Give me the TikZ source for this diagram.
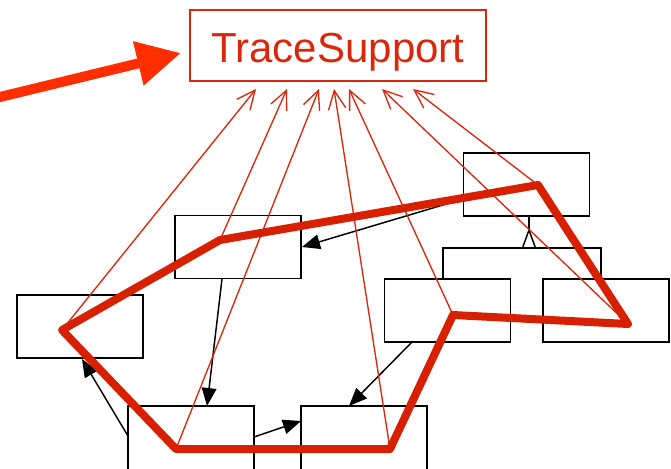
\documentclass[tikz,border=0pt]{standalone}
\usepackage{fontspec}
\setmainfont{Liberation Sans}
\usetikzlibrary{arrows.meta}
\definecolor{tracered}{RGB}{218,38,10}
\definecolor{pathred}{RGB}{214,32,0}
\definecolor{pointerred}{RGB}{255,45,0}

\begin{document}
\begin{tikzpicture}[x=0.75pt,y=-0.75pt,
  cls/.style={draw=black, line width=1.4pt, fill=white, minimum width=94.5pt,
              minimum height=47.25pt, inner sep=0pt, outer sep=0pt},
  dep/.style={draw=black, line width=1.1pt, -{Triangle[length=13.5pt,width=11pt]}},
  gen/.style={draw=black, line width=1.1pt},
  traceline/.style={draw=tracered, line width=1pt,
                    -{Straight Barb[length=14pt,width=13pt]}},
  callpath/.style={draw=pathred, line width=6pt, line join=round, line cap=round},
  pointer/.style={draw=pointerred, line width=7.5pt,
                  -{Triangle[length=33pt,width=32pt]}}
]
\useasboundingbox (0,0) rectangle (671,468);

% the TraceSupport aspect
\node[draw=tracered, line width=1.5pt, minimum width=222pt, minimum height=53.25pt,
      inner sep=0pt] (ts) at (338,45.5) {};
\node[anchor=base, text=tracered, font=\fontsize{31.5}{36}\selectfont, inner sep=0pt]
      (tstext) at (338,62) {TraceSupport};

% classes
\node[cls] (a) at (238,247) {};
\node[cls] (b) at (80,326.5) {};
\node[cls, minimum height=49.5pt] (c) at (191,439) {};
\node[cls, minimum height=49.5pt] (d) at (364,439) {};
\node[cls] (e) at (526.5,184.5) {};
\node[cls] (g) at (447.5,310.5) {};
\node[cls] (h) at (606,310.5) {};

% generalisation: g and h specialise e
\coordinate (apex) at (529,230);
\coordinate (barl) at (443,248);
\coordinate (barr) at (601,248);
\draw[gen] (e.south -| apex) -- (apex);
\draw[gen] (apex) -- (522.5,248) -- (535.5,248) -- cycle;
\draw[gen] (g.north -| barl) -- (barl) -- (barr) -- (h.north -| barr);

% calls between classes
\draw[dep] (463,199) -- (302,247);
\draw[dep] (222,279) -- (207,406);
\draw[dep] (128,436) -- (82,359);
\draw[dep] (254,437) -- (301,421);
\draw[dep] (412,342) -- (349,406);

% join points of the traced call path
\coordinate (p1) at (538,185);
\coordinate (p2) at (220,240);
\coordinate (p3) at (62,330);
\coordinate (p4) at (176,449);
\coordinate (p5) at (390,449);
\coordinate (p6) at (453,315);
\coordinate (p7) at (628,324);

% advice targets under the aspect
\coordinate (t1) at (256,89);
\coordinate (t2) at (287,89);
\coordinate (t3) at (319,89);
\coordinate (t4) at (334,89);
\coordinate (t5) at (349,89);
\coordinate (t6) at (382,89);
\coordinate (t7) at (413,89);

\draw[traceline] (p3) -- (t1);
\draw[traceline] (p2) -- (t2);
\draw[traceline] (p4) -- (t3);
\draw[traceline] (p5) -- (t4);
\draw[traceline] (p6) -- (t5);
\draw[traceline] (p7) -- (t6);
\draw[traceline] (p1) -- (t7);

% the crosscutting call path
\draw[callpath] (p1) -- (p2) -- (p3) -- (p4) -- (p5) -- (p6) -- (p7) -- cycle;

% pointer to the aspect
\coordinate (tail) at (-5,98.2);
\coordinate (head) at (181,53);
\draw[pointer] (tail) -- (head);
\end{tikzpicture}
\end{document}
